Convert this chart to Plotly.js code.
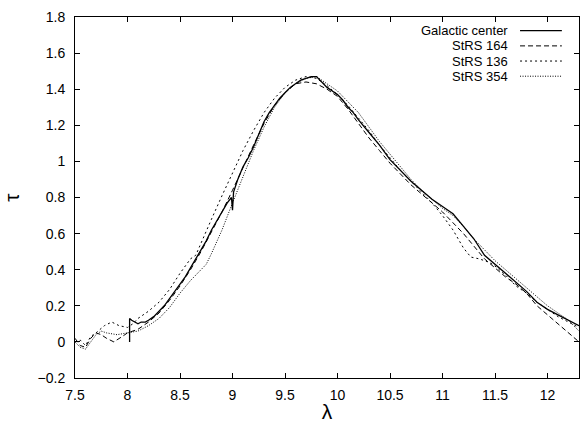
<!DOCTYPE html>
<html>
<head>
<meta charset="utf-8">
<script src="https://cdn.plot.ly/plotly-3.0.1.min.js"></script>
<style>html,body{margin:0;padding:0;background:#fff;}#chart{width:580px;height:423px;}</style>
</head>
<body>
<div id="chart"></div>
<script>
// Galactic center (solid)
const gcLambda = [8.02,8.02,8.04,8.07,8.1,8.13,8.17,8.2,8.25,8.3,8.35,8.4,8.45,8.5,8.55,8.6,8.65,8.7,8.75,8.8,8.85,8.9,8.95,8.99,9.0,9.01,9.05,9.1,9.15,9.2,9.25,9.3,9.35,9.4,9.45,9.5,9.55,9.6,9.65,9.7,9.75,9.8,9.85,9.9,9.95,10.0,10.05,10.1,10.15,10.2,10.3,10.4,10.5,10.6,10.7,10.8,10.9,11.0,11.1,11.2,11.3,11.4,11.5,11.6,11.7,11.8,11.9,12.0,12.1,12.2,12.3];
const gcTau    = [0.00,0.13,0.12,0.11,0.10,0.11,0.11,0.12,0.14,0.17,0.20,0.24,0.28,0.32,0.36,0.41,0.46,0.51,0.56,0.62,0.67,0.72,0.77,0.80,0.73,0.83,0.90,0.97,1.02,1.08,1.15,1.22,1.27,1.31,1.35,1.38,1.41,1.43,1.45,1.46,1.47,1.47,1.44,1.41,1.39,1.37,1.34,1.30,1.27,1.23,1.16,1.09,1.01,0.95,0.89,0.84,0.79,0.75,0.71,0.64,0.57,0.48,0.43,0.38,0.33,0.28,0.22,0.18,0.15,0.12,0.09];

// StRS 164 (dashed)
const s164Lambda = [7.5,7.55,7.6,7.65,7.7,7.75,7.8,7.87,7.95,8.0,8.1,8.2,8.3,8.4,8.5,8.6,8.7,8.8,8.9,9.0,9.1,9.2,9.3,9.4,9.5,9.6,9.7,9.8,9.9,10.0,10.1,10.2,10.3,10.4,10.5,10.6,10.7,10.8,10.9,11.0,11.1,11.2,11.3,11.4,11.5,11.6,11.7,11.8,11.9,12.0,12.1,12.2,12.3];
const s164Tau    = [0.02,-0.02,-0.03,0.02,0.05,0.04,0.02,0.00,0.03,0.05,0.07,0.11,0.16,0.23,0.31,0.40,0.50,0.61,0.72,0.84,0.97,1.09,1.21,1.31,1.38,1.43,1.44,1.43,1.40,1.36,1.29,1.21,1.13,1.06,0.99,0.93,0.87,0.82,0.77,0.72,0.66,0.60,0.53,0.46,0.41,0.36,0.32,0.27,0.20,0.15,0.10,0.05,0.00];

// StRS 136 (short dashes)
const s136Lambda = [7.5,7.55,7.6,7.65,7.7,7.78,7.85,7.92,8.0,8.05,8.1,8.2,8.3,8.4,8.5,8.6,8.65,8.7,8.8,8.9,9.0,9.1,9.2,9.3,9.4,9.5,9.6,9.7,9.8,9.9,10.0,10.1,10.2,10.3,10.4,10.5,10.6,10.7,10.8,10.9,11.0,11.1,11.2,11.27,11.35,11.45,11.5,11.6,11.7,11.8,11.9,12.0,12.1,12.2,12.3];
const s136Tau    = [0.00,0.01,-0.02,0.03,0.05,0.09,0.11,0.09,0.08,0.10,0.13,0.17,0.22,0.29,0.38,0.46,0.48,0.55,0.68,0.81,0.94,1.06,1.17,1.27,1.35,1.41,1.45,1.47,1.46,1.42,1.37,1.31,1.24,1.17,1.09,1.02,0.95,0.89,0.83,0.77,0.70,0.62,0.52,0.47,0.46,0.44,0.42,0.37,0.31,0.27,0.22,0.18,0.14,0.11,0.08];

// StRS 354 (dotted)
const s354Lambda = [7.5,7.55,7.6,7.65,7.7,7.75,7.8,7.9,8.0,8.1,8.2,8.3,8.4,8.5,8.6,8.7,8.75,8.8,8.9,9.0,9.1,9.2,9.3,9.4,9.5,9.6,9.7,9.8,9.9,10.0,10.1,10.2,10.3,10.4,10.5,10.6,10.7,10.8,10.9,11.0,11.1,11.2,11.3,11.4,11.5,11.6,11.7,11.8,11.9,12.0,12.1,12.2,12.3];
const s354Tau    = [0.00,-0.03,-0.04,0.00,0.04,0.06,0.05,0.04,0.05,0.06,0.09,0.13,0.19,0.27,0.34,0.40,0.43,0.49,0.62,0.77,0.92,1.06,1.19,1.30,1.38,1.43,1.46,1.47,1.43,1.39,1.33,1.27,1.19,1.11,1.04,0.97,0.90,0.84,0.79,0.74,0.70,0.64,0.57,0.51,0.45,0.40,0.35,0.30,0.25,0.20,0.16,0.12,0.06];

const seriesNames = ['Galactic center','StRS 164','StRS 136','StRS 354'];
const dashes = ['solid','5px,3px','2px,3px','1px,1.5px'];
const widths = [1.3,1,1,1];

const xs = [gcLambda,s164Lambda,s136Lambda,s354Lambda];
const ys = [gcTau,s164Tau,s136Tau,s354Tau];

const font = 'Liberation Sans, Arial, Helvetica, sans-serif';
const traces = xs.map((x,i)=>({
  x:x, y:ys[i], type:'scatter', mode:'lines', name:seriesNames[i],
  line:{color:'#000', width:widths[i], dash:dashes[i]}, showlegend:false
}));

// legend built from annotations + sample line shapes (paper coords)
const legTextX = 0.861, legLine0 = 0.883, legLine1 = 0.966;
const legY = [0.962,0.920,0.878,0.836];
const annotations = seriesNames.map((n,i)=>({
  xref:'paper', yref:'paper', x:legTextX, y:legY[i], xanchor:'right', yanchor:'middle',
  text:n, showarrow:false, borderpad:0, font:{family:font, size:13, color:'#000'}
}));
const shapes = seriesNames.map((n,i)=>({
  type:'line', xref:'paper', yref:'paper', x0:legLine0, x1:legLine1, y0:legY[i], y1:legY[i],
  line:{color:'#000', width:widths[i], dash:dashes[i]}
}));

const axisCommon = {
  showgrid:false, zeroline:false, showline:true, linecolor:'#000', linewidth:1,
  mirror:'ticks', ticks:'inside', ticklen:5, tickcolor:'#000', tickwidth:1,
  tickfont:{family:font, size:14, color:'#000'}
};

const layout = {
  width:580, height:423,
  margin:{l:75, r:1, t:17, b:45, pad:0},
  paper_bgcolor:'#fff', plot_bgcolor:'#fff',
  xaxis:Object.assign({}, axisCommon, {
    range:[7.5,12.3], dtick:0.5, tick0:7.5, ticklabelstandoff:4,
    title:{text:'λ', font:{family:font, size:21, color:'#000'}, standoff:2}
  }),
  yaxis:Object.assign({}, axisCommon, {
    range:[-0.2,1.8], dtick:0.2, tick0:0, ticklabelstandoff:6,
    title:{text:'τ', font:{family:font, size:21, color:'#000'}, standoff:14}
  }),
  annotations:annotations, shapes:shapes
};

Plotly.newPlot('chart', traces, layout, {staticPlot:true, displayModeBar:false});
</script>
</body>
</html>
